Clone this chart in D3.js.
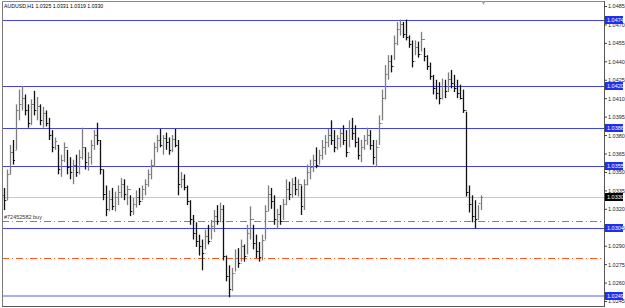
<!DOCTYPE html>
<html><head><meta charset="utf-8">
<script src="https://cdn.jsdelivr.net/npm/d3@7"></script>
<style>html,body{margin:0;padding:0;background:#fff;}svg{display:block;}</style>
</head><body>
<svg id="c" width="625" height="308"></svg>
<script>
const title = "AUDUSD,H1  1.0325 1.0331 1.0319 1.0330";
const opens = [1.0331,1.0327,1.0348,1.0366,1.0368,1.0400,1.0405,1.0410,1.0400,1.0390,1.0405,1.0400,1.0404,1.0392,1.0398,1.0390,1.0380,1.0370,1.0372,1.0352,
1.0360,1.0370,1.0354,1.0350,1.0356,1.0350,1.0362,1.0370,1.0358,1.0362,1.0372,1.0380,1.0376,1.0352,1.0332,1.0320,1.0328,1.0322,1.0330,1.0334,
1.0340,1.0332,1.0336,1.0318,1.0324,1.0330,1.0326,1.0336,1.0340,1.0348,1.0356,1.0370,1.0376,1.0372,1.0378,1.0374,1.0368,1.0377,1.0372,1.0340,
1.0344,1.0338,1.0326,1.0312,1.0300,1.0294,1.0290,1.0284,1.0298,1.0294,1.0306,1.0314,1.0310,1.0320,1.0282,1.0265,1.0255,1.0268,1.0280,1.0276,
1.0290,1.0282,1.0300,1.0312,1.0292,1.0286,1.0281,1.0295,1.0318,1.0332,1.0326,1.0312,1.0316,1.0310,1.0324,1.0336,1.0332,1.0340,1.0336,1.0340,
1.0322,1.0340,1.0350,1.0354,1.0360,1.0356,1.0364,1.0370,1.0374,1.0380,1.0376,1.0370,1.0378,1.0382,1.0376,1.0366,1.0386,1.0382,1.0374,1.0364,
1.0370,1.0376,1.0380,1.0372,1.0362,1.0370,1.0390,1.0410,1.0430,1.0440,1.0436,1.0455,1.0466,1.0470,1.0462,1.0460,1.0454,1.0440,1.0452,1.0446,
1.0458,1.0444,1.0436,1.0428,1.0418,1.0414,1.0410,1.0420,1.0416,1.0426,1.0422,1.0418,1.0414,1.0410,1.0400,1.0334,1.0324,1.0314,1.0312,1.0325];
const highs = [1.0337,1.0352,1.0372,1.0376,1.0405,1.0417,1.0420,1.0413,1.0405,1.0409,1.0416,1.0411,1.0405,1.0403,1.0400,1.0394,1.0384,1.0378,1.0372,1.0364,
1.0374,1.0368,1.0362,1.0360,1.0364,1.0368,1.0386,1.0370,1.0366,1.0376,1.0384,1.0390,1.0376,1.0352,1.0339,1.0335,1.0337,1.0334,1.0339,1.0345,
1.0344,1.0339,1.0331,1.0329,1.0335,1.0337,1.0339,1.0344,1.0352,1.0360,1.0374,1.0380,1.0385,1.0380,1.0382,1.0378,1.0380,1.0385,1.0376,1.0350,
1.0348,1.0339,1.0327,1.0315,1.0309,1.0299,1.0295,1.0303,1.0307,1.0311,1.0319,1.0323,1.0325,1.0323,1.0282,1.0274,1.0272,1.0287,1.0288,1.0295,
1.0291,1.0307,1.0322,1.0307,1.0299,1.0293,1.0299,1.0323,1.0339,1.0337,1.0331,1.0320,1.0323,1.0328,1.0344,1.0342,1.0345,1.0346,1.0344,1.0339,
1.0344,1.0356,1.0360,1.0364,1.0370,1.0368,1.0376,1.0380,1.0385,1.0392,1.0384,1.0380,1.0385,1.0388,1.0384,1.0392,1.0394,1.0388,1.0378,1.0376,
1.0380,1.0386,1.0384,1.0376,1.0376,1.0396,1.0417,1.0437,1.0445,1.0445,1.0461,1.0472,1.0474,1.0472,1.0474,1.0461,1.0457,1.0457,1.0456,1.0464,
1.0451,1.0445,1.0439,1.0429,1.0425,1.0423,1.0426,1.0425,1.0431,1.0433,1.0429,1.0425,1.0421,1.0417,1.0399,1.0339,1.0331,1.0327,1.0323,1.0331];
const lows = [1.0319,1.0327,1.0348,1.0356,1.0368,1.0392,1.0400,1.0396,1.0386,1.0388,1.0396,1.0392,1.0388,1.0386,1.0387,1.0376,1.0366,1.0368,1.0348,1.0346,
1.0358,1.0348,1.0344,1.0340,1.0346,1.0348,1.0360,1.0352,1.0351,1.0356,1.0368,1.0372,1.0348,1.0327,1.0314,1.0318,1.0319,1.0318,1.0323,1.0329,
1.0327,1.0323,1.0314,1.0315,1.0321,1.0323,1.0327,1.0331,1.0338,1.0344,1.0354,1.0366,1.0370,1.0364,1.0368,1.0364,1.0366,1.0370,1.0331,1.0337,
1.0335,1.0323,1.0307,1.0295,1.0289,1.0282,1.0270,1.0287,1.0291,1.0295,1.0301,1.0307,1.0309,1.0278,1.0261,1.0248,1.0253,1.0269,1.0272,1.0277,
1.0277,1.0283,1.0295,1.0287,1.0280,1.0277,1.0278,1.0295,1.0318,1.0320,1.0307,1.0304,1.0307,1.0311,1.0323,1.0327,1.0329,1.0331,1.0330,1.0315,
1.0319,1.0339,1.0344,1.0350,1.0353,1.0356,1.0360,1.0364,1.0370,1.0372,1.0366,1.0368,1.0370,1.0372,1.0362,1.0370,1.0376,1.0370,1.0360,1.0358,
1.0368,1.0372,1.0368,1.0356,1.0354,1.0372,1.0392,1.0409,1.0425,1.0431,1.0441,1.0453,1.0461,1.0459,1.0457,1.0451,1.0435,1.0445,1.0443,1.0448,
1.0440,1.0433,1.0425,1.0413,1.0409,1.0405,1.0409,1.0410,1.0415,1.0418,1.0415,1.0410,1.0409,1.0398,1.0330,1.0317,1.0309,1.0304,1.0311,1.0319];
const closes = [1.0327,1.0348,1.0366,1.0360,1.0400,1.0405,1.0410,1.0400,1.0390,1.0405,1.0400,1.0404,1.0392,1.0398,1.0390,1.0380,1.0370,1.0375,1.0352,1.0360,
1.0370,1.0354,1.0350,1.0356,1.0350,1.0362,1.0370,1.0358,1.0362,1.0372,1.0380,1.0376,1.0352,1.0332,1.0320,1.0328,1.0322,1.0330,1.0334,1.0340,
1.0332,1.0336,1.0318,1.0324,1.0330,1.0326,1.0336,1.0340,1.0348,1.0356,1.0370,1.0376,1.0372,1.0378,1.0374,1.0368,1.0377,1.0372,1.0340,1.0344,
1.0338,1.0326,1.0312,1.0300,1.0294,1.0290,1.0284,1.0298,1.0294,1.0306,1.0314,1.0310,1.0320,1.0282,1.0265,1.0255,1.0268,1.0280,1.0276,1.0290,
1.0282,1.0300,1.0312,1.0292,1.0286,1.0281,1.0295,1.0318,1.0332,1.0326,1.0312,1.0316,1.0310,1.0324,1.0336,1.0332,1.0340,1.0336,1.0340,1.0322,
1.0340,1.0350,1.0354,1.0360,1.0356,1.0364,1.0370,1.0374,1.0380,1.0376,1.0370,1.0378,1.0382,1.0376,1.0366,1.0386,1.0382,1.0374,1.0364,1.0370,
1.0376,1.0380,1.0372,1.0362,1.0370,1.0390,1.0410,1.0430,1.0440,1.0436,1.0455,1.0466,1.0470,1.0462,1.0460,1.0454,1.0440,1.0452,1.0446,1.0458,
1.0444,1.0436,1.0428,1.0418,1.0414,1.0410,1.0420,1.0416,1.0426,1.0422,1.0418,1.0414,1.0410,1.0400,1.0334,1.0324,1.0314,1.0312,1.0325,1.0330];
const tickValues = [1.0485,1.0470,1.0455,1.0440,1.0425,1.0410,1.0395,1.0380,1.0365,1.0350,1.0335,1.0320,1.0305,1.0290,1.0275,1.0260,1.0245];
const hLevels = [1.0474,1.0420,1.0386,1.0355,1.0304];
const supportLevel = 1.0249;
const bidPrice = 1.0330;
const orderPrice = 1.0310;
const orderLabel = "#72452582 buy";
const stopPrice = 1.0280;

(function(){
const svg = d3.select("#c");
const pL = 2, pR = 604, pT = 1, pB = 306;
const n = Math.min(opens.length, highs.length, lows.length, closes.length);
const x = d3.scaleLinear().domain([0, 159]).range([4, 481]);
const y = d3.scaleLinear().domain([1.0245, 1.0485]).range([301, 6]);
const bars = d3.range(n).map(i => ({i, o: opens[i], h: highs[i], l: lows[i], c: closes[i]}));
const fmt = d3.format(".4f");
const font = "Liberation Sans, Arial, sans-serif";

svg.append("rect").attr("width",625).attr("height",308).attr("fill","#fff");

const hl = svg.append("g");
const yy = v => Math.round(y(v)) + 0.5;
hl.append("line").attr("x1",pL).attr("x2",pR).attr("y1",yy(bidPrice)).attr("y2",yy(bidPrice))
  .attr("stroke","#c8c8c8").attr("stroke-width",1);
hLevels.forEach(v => {
  hl.append("line").attr("x1",pL).attr("x2",pR).attr("y1",yy(v)).attr("y2",yy(v))
    .attr("stroke","#4242e2").attr("stroke-width",1);
});
hl.append("line").attr("x1",pL).attr("x2",pR).attr("y1",Math.round(y(supportLevel))).attr("y2",Math.round(y(supportLevel)))
  .attr("stroke","#a8aef5").attr("stroke-width",2);
hl.append("line").attr("x1",pL).attr("x2",pR).attr("y1",yy(orderPrice)).attr("y2",yy(orderPrice))
  .attr("stroke","#52a552").attr("stroke-width",1).attr("stroke-dasharray","7,3,1,3");
hl.append("line").attr("x1",pL).attr("x2",pR).attr("y1",yy(stopPrice)).attr("y2",yy(stopPrice))
  .attr("stroke","#ff5a1e").attr("stroke-width",1).attr("stroke-dasharray","7,3,1,3");
hl.append("text").attr("x",4).attr("y",Math.round(y(orderPrice))-2).attr("font-family",font).attr("font-size",5.5)
  .attr("fill","#333").text(orderLabel);

const g = svg.append("g");
bars.forEach(b => {
  const cx = Math.round(x(b.i)) + 0.5;
  const col = b.c >= b.o ? "#7d7d7d" : "#111";
  g.append("line").attr("x1",cx).attr("x2",cx).attr("y1",y(b.h)).attr("y2",y(b.l)).attr("stroke",col).attr("stroke-width",1.3);
  g.append("line").attr("x1",cx-1).attr("x2",cx).attr("y1",yy(b.o)).attr("y2",yy(b.o)).attr("stroke",col);
  g.append("line").attr("x1",cx).attr("x2",cx+1.5).attr("y1",yy(b.c)).attr("y2",yy(b.c)).attr("stroke",col);
});

svg.append("line").attr("x1",pL+0.5).attr("x2",pL+0.5).attr("y1",pT).attr("y2",pB).attr("stroke","#7a7a7a");
svg.append("line").attr("x1",pL).attr("x2",pR).attr("y1",pT+0.5).attr("y2",pT+0.5).attr("stroke","#8a8a8a");
svg.append("line").attr("x1",pL).attr("x2",pR+1).attr("y1",pB+0.5).attr("y2",pB+0.5).attr("stroke","#555");
svg.append("line").attr("x1",pR+0.5).attr("x2",pR+0.5).attr("y1",pT).attr("y2",pB+1).attr("stroke","#555");

const sx = x(159);
svg.append("path").attr("d", `M${sx+0.5},1 L${sx+4.5},1 L${sx+2.5},5 Z`).attr("fill","#a0a0a0");

const axis = d3.axisRight(y).tickValues(tickValues).tickSize(3).tickFormat(fmt);
const ag = svg.append("g").attr("transform",`translate(${pR},0)`).call(axis);
ag.select(".domain").remove();
ag.selectAll("line").attr("stroke","#444");
ag.selectAll("text").attr("font-family",font).attr("font-size",5.5).attr("fill","#222").attr("x",4).attr("dy","0.35em");

function priceLabel(v, bg, fg) {
  const py = Math.round(y(v));
  svg.append("rect").attr("x",pR+1).attr("y",py-4).attr("width",18).attr("height",8).attr("fill",bg);
  svg.append("text").attr("x",pR+3).attr("y",py).attr("dy","0.35em").attr("font-family",font).attr("font-size",5.5)
    .attr("fill",fg).text(fmt(v));
}
hLevels.forEach(v => priceLabel(v, "#1f2ff0", "#fff"));
priceLabel(supportLevel, "#1f2ff0", "#fff");
priceLabel(bidPrice, "#000", "#fff");

svg.append("text").attr("x",4).attr("y",8).attr("font-family",font).attr("font-size",5.2).attr("fill","#000").text(title);
})();
</script>
</body></html>
